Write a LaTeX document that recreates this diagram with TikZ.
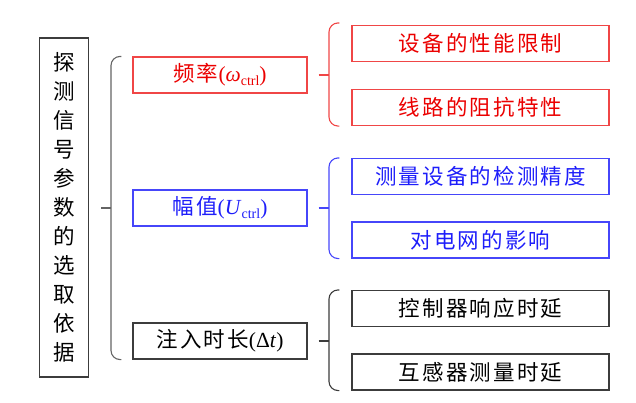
\documentclass[tikz,border=0pt]{standalone}
\usepackage{fontspec}
\setmainfont{Liberation Serif}
\newfontfamily\cjk[LetterSpace=10]{Noto Sans CJK SC}
\newfontfamily\cjkv{Noto Sans CJK SC}
\definecolor{bred}{RGB}{240,70,70}
\definecolor{tred}{RGB}{235,0,0}
\definecolor{bblue}{RGB}{70,70,250}
\definecolor{tblue}{RGB}{30,30,250}
\definecolor{bgray}{RGB}{60,60,60}
\definecolor{brgray}{RGB}{100,100,100}
\begin{document}
\begin{tikzpicture}[x=1pt,y=-1pt,
  box/.style={draw, line width=1.1pt, rectangle, inner sep=0pt, minimum height=36pt, font=\fontsize{21.5}{25}\selectfont},
  midbox/.style={box, minimum width=174pt},
  rbox/.style={box, minimum width=257pt},
  brace/.style={line width=1.1pt, rounded corners=9pt}]
\useasboundingbox (0,0) rectangle (636,402);
% root
\node[draw=bgray, line width=1.1pt, minimum width=49pt, minimum height=339pt, inner sep=0pt, align=center,
  font=\fontsize{21.5}{29}\selectfont\cjkv] (root) at (64,207.5)
  {探\\测\\信\\号\\参\\数\\的\\选\\取\\依\\据};
% middle boxes
\node[midbox, draw=bred, text=tred] (freq) at (220,75) {{\cjk 频率}(\textit{ω}\raisebox{-4pt}{\fontsize{14}{14}\selectfont ctrl})};
\node[midbox, draw=bblue, text=tblue] (amp) at (220,208) {{\cjk 幅值}(\textit{U}\raisebox{-4pt}{\fontsize{14}{14}\selectfont ctrl})};
\node[midbox, draw=bgray, text=black] (dur) at (220,341) {{\cjk 注入时长}(Δ\textit{t})};
% right boxes
\node[rbox, draw=bred, text=tred] (r1) at (480.5,43.5) {\cjk 设备的性能限制};
\node[rbox, draw=bred, text=tred] (r2) at (480.5,107.5) {\cjk 线路的阻抗特性};
\node[rbox, draw=bblue, text=tblue] (b1) at (480.5,176.5) {\cjk 测量设备的检测精度};
\node[rbox, draw=bblue, text=tblue] (b2) at (480.5,240) {\cjk 对电网的影响};
\node[rbox, draw=bgray, text=black] (k1) at (480.5,308.5) {\cjk 控制器响应时延};
\node[rbox, draw=bgray, text=black] (k2) at (480.5,372) {\cjk 互感器测量时延};
% big brace
\coordinate (bigmid) at (111,208);
\draw[brace, draw=brgray] ([xshift=-11pt]freq.north west) -| (bigmid) |- ([xshift=-11pt]dur.south west);
\draw[line width=1.1pt, draw=brgray] ([xshift=12pt]root.east |- bigmid) -- (bigmid);
% red brace
\coordinate (rmid) at (329,75);
\draw[brace, draw=bred] ([xshift=-12pt,yshift=2pt]r1.north west) -| (rmid) |- ([xshift=-12pt]r2.south west);
\draw[line width=1.1pt, draw=bred] ([xshift=11pt]freq.east) -- (rmid);
% blue brace
\coordinate (bmid) at (329,208);
\draw[brace, draw=bblue] ([xshift=-12pt]b1.north west) -| (bmid) |- ([xshift=-12pt]b2.south west);
\draw[line width=1.1pt, draw=bblue] ([xshift=11pt]amp.east) -- (bmid);
% black brace
\coordinate (kmid) at (329,341);
\draw[brace, draw=bgray] ([xshift=-12pt]k1.north west) -| (kmid) |- ([xshift=-12pt]k2.south west);
\draw[line width=1.1pt, draw=bgray] ([xshift=11pt]dur.east) -- (kmid);
\end{tikzpicture}
\end{document}
